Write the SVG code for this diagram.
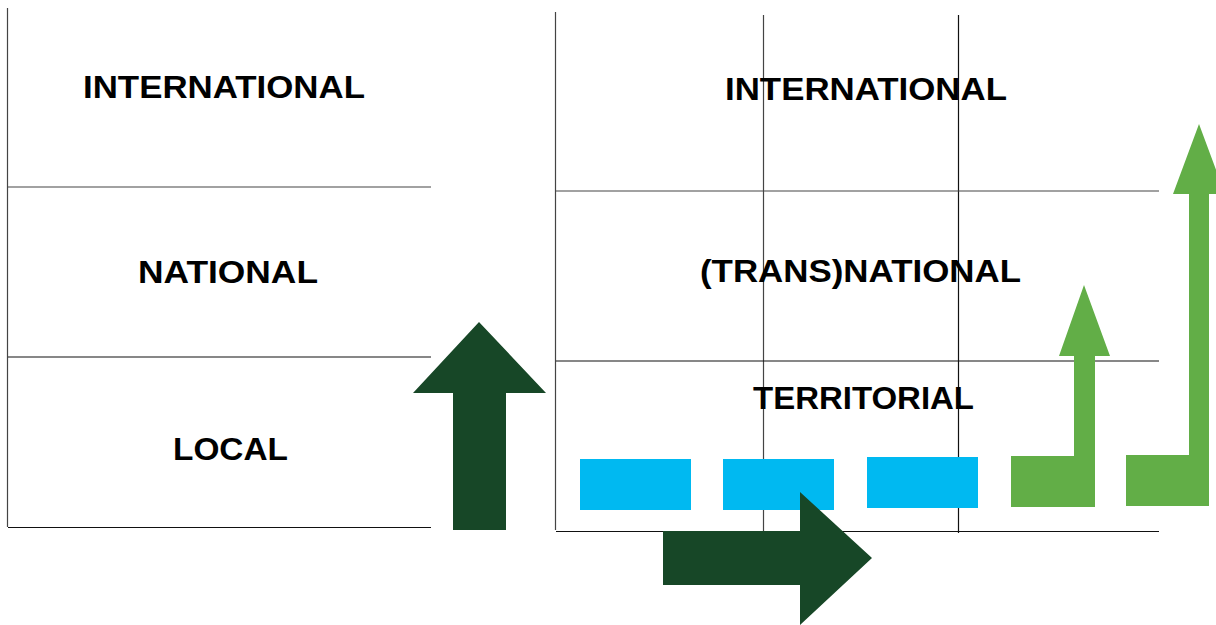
<svg xmlns="http://www.w3.org/2000/svg" width="1216" height="625" viewBox="0 0 1216 625">
  <style>
    .grid { stroke: #111; stroke-width: 1.2; fill: none; }
    .grid-soft { stroke: #444; stroke-width: 1.2; fill: none; }
    .label { font-family: "Liberation Sans", Arial, sans-serif; font-weight: bold; font-size: 31px; fill: #000; }
    .dark { fill: #174727; }
    .light { fill: #62AE47; }
    .blue { fill: #00B9F1; }
  </style>
  <rect width="1216" height="625" fill="#fff"/>

  <!-- left scale panel -->
  <g id="left-grid">
    <line class="grid-soft" x1="7.5" y1="8" x2="7.5" y2="527"/>
    <line class="grid-soft" x1="8" y1="187" x2="431" y2="187"/>
    <line class="grid" x1="8" y1="357" x2="431" y2="357"/>
    <line class="grid" x1="8" y1="527.5" x2="431" y2="527.5"/>
  </g>
  <g id="left-international"><text class="label" x="83" y="98" textLength="282" lengthAdjust="spacingAndGlyphs">INTERNATIONAL</text></g>
  <g id="left-national"><text class="label" x="138" y="283" textLength="180" lengthAdjust="spacingAndGlyphs">NATIONAL</text></g>
  <g id="left-local"><text class="label" x="173" y="460" textLength="115" lengthAdjust="spacingAndGlyphs">LOCAL</text></g>

  <!-- right scale panel -->
  <g id="right-grid">
    <line class="grid-soft" x1="555.5" y1="12" x2="555.5" y2="530"/>
    <line class="grid-soft" x1="763.5" y1="15" x2="763.5" y2="531"/>
    <line class="grid" x1="958.5" y1="15" x2="958.5" y2="533"/>
    <line class="grid-soft" x1="556" y1="191" x2="1159" y2="191"/>
    <line class="grid" x1="556" y1="361" x2="1159" y2="361"/>
    <line class="grid" x1="556" y1="531.5" x2="1159" y2="531.5"/>
  </g>
  <g id="right-international"><text class="label" x="725" y="100" textLength="282" lengthAdjust="spacingAndGlyphs">INTERNATIONAL</text></g>
  <g id="right-transnational"><text class="label" x="700" y="282" textLength="321" lengthAdjust="spacingAndGlyphs">(TRANS)NATIONAL</text></g>
  <g id="right-territorial"><text class="label" x="753" y="409" textLength="221" lengthAdjust="spacingAndGlyphs">TERRITORIAL</text></g>

  <!-- territorial units -->
  <g id="unit-1"><rect class="blue" x="580" y="459" width="111" height="51"/></g>
  <g id="unit-2"><rect class="blue" x="723" y="459" width="111" height="51"/></g>
  <g id="unit-3"><rect class="blue" x="867" y="457" width="111" height="51"/></g>

  <!-- arrows -->
  <g id="connectors">
    <polygon id="arrow-up" class="dark" points="479,322 546,393 506,393 506,530 453,530 453,393 413,393"/>
    <polygon id="arrow-right" class="dark" points="663,531 800,531 800,492 872,558 800,625 800,585 663,585"/>
    <polygon id="arrow-rise-1" class="light" points="1011,456 1074,456 1074,356 1059,356 1084,285 1110,356 1095,356 1095,507 1011,507"/>
    <polygon id="arrow-rise-2" class="light" points="1126,455 1189,455 1189,194 1173,194 1199,124 1225,194 1209,194 1209,506 1126,506"/>
  </g>
</svg>
